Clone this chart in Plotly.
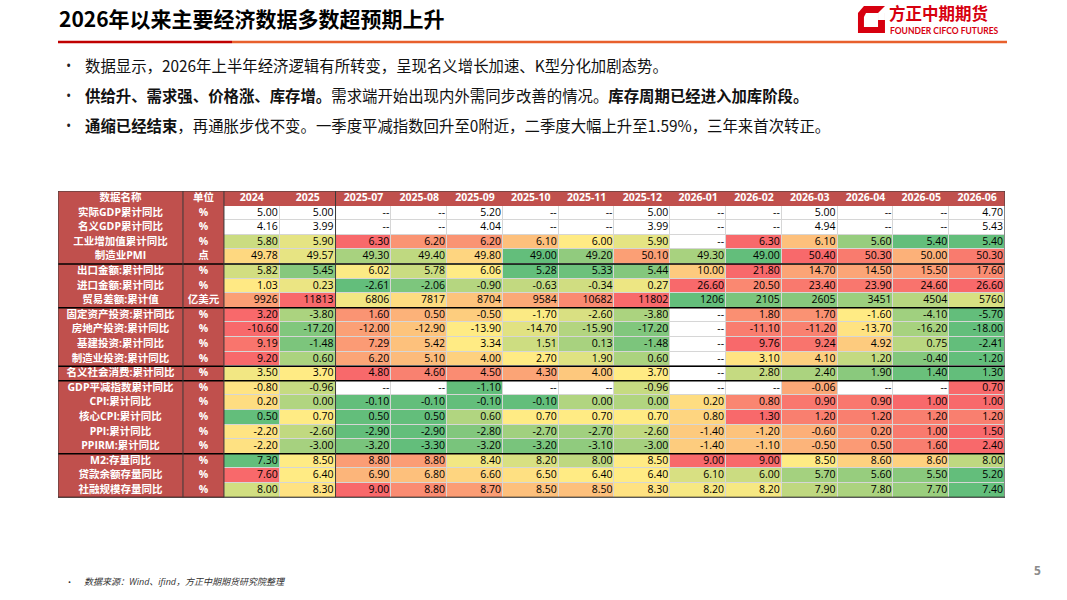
import numpy as np
import plotly.graph_objects as go

# ---------------- data ----------------

periods = ["2024", "2025", "2025-07", "2025-08", "2025-09", "2025-10", "2025-11",
           "2025-12", "2026-01", "2026-02", "2026-03", "2026-04", "2026-05", "2026-06"]

names = ["实际GDP累计同比", "名义GDP累计同比", "工业增加值累计同比", "制造业PMI",
         "出口金额:累计同比", "进口金额:累计同比", "贸易差额:累计值",
         "固定资产投资:累计同比", "房地产投资:累计同比", "基建投资:累计同比", "制造业投资:累计同比",
         "名义社会消费:累计同比",
         "GDP平减指数累计同比", "CPI:累计同比", "核心CPI:累计同比", "PPI:累计同比", "PPIRM:累计同比",
         "M2:存量同比", "贷款余额存量同比", "社融规模存量同比"]

units = ["%", "%", "%", "点", "%", "%", "亿美元", "%", "%", "%", "%", "%",
         "%", "%", "%", "%", "%", "%", "%", "%"]

N = None
real_gdp = [5.00, 5.00, N, N, 5.20, N, N, 5.00, N, N, 5.00, N, N, 4.70]
nominal_gdp = [4.16, 3.99, N, N, 4.04, N, N, 3.99, N, N, 4.94, N, N, 5.43]
ind_va = [5.80, 5.90, 6.30, 6.20, 6.20, 6.10, 6.00, 5.90, N, 6.30, 6.10, 5.60, 5.40, 5.40]
pmi = [49.78, 49.57, 49.30, 49.40, 49.80, 49.00, 49.20, 50.10, 49.30, 49.00, 50.40, 50.30, 50.00, 50.30]
exports = [5.82, 5.45, 6.02, 5.78, 6.06, 5.28, 5.33, 5.44, 10.00, 21.80, 14.70, 14.50, 15.50, 17.60]
imports = [1.03, 0.23, -2.61, -2.06, -0.90, -0.63, -0.34, 0.27, 26.60, 20.50, 23.40, 23.90, 24.60, 26.60]
trade_bal = [9926, 11813, 6806, 7817, 8704, 9584, 10682, 11802, 1206, 2105, 2605, 3451, 4504, 5760]
fai = [3.20, -3.80, 1.60, 0.50, -0.50, -1.70, -2.60, -3.80, N, 1.80, 1.70, -1.60, -4.10, -5.70]
property_inv = [-10.60, -17.20, -12.00, -12.90, -13.90, -14.70, -15.90, -17.20, N, -11.10, -11.20, -13.70, -16.20, -18.00]
infra_inv = [9.19, -1.48, 7.29, 5.42, 3.34, 1.51, 0.13, -1.48, N, 9.76, 9.24, 4.92, 0.75, -2.41]
mfg_inv = [9.20, 0.60, 6.20, 5.10, 4.00, 2.70, 1.90, 0.60, N, 3.10, 4.10, 1.20, -0.40, -1.20]
retail = [3.50, 3.70, 4.80, 4.60, 4.50, 4.30, 4.00, 3.70, N, 2.80, 2.40, 1.90, 1.40, 1.30]
deflator = [-0.80, -0.96, N, N, -1.10, N, N, -0.96, N, N, -0.06, N, N, 0.70]
cpi = [0.20, 0.00, -0.10, -0.10, -0.10, -0.10, 0.00, 0.00, 0.20, 0.80, 0.90, 0.90, 1.00, 1.00]
core_cpi = [0.50, 0.70, 0.50, 0.50, 0.60, 0.70, 0.70, 0.70, 0.80, 1.30, 1.20, 1.20, 1.20, 1.20]
ppi = [-2.20, -2.60, -2.90, -2.90, -2.80, -2.70, -2.70, -2.60, -1.40, -1.20, -0.60, 0.20, 1.00, 1.50]
ppirm = [-2.20, -3.00, -3.20, -3.30, -3.20, -3.20, -3.10, -3.00, -1.40, -1.10, -0.50, 0.50, 1.60, 2.40]
m2 = [7.30, 8.50, 8.80, 8.80, 8.40, 8.20, 8.00, 8.50, 9.00, 9.00, 8.50, 8.60, 8.60, 8.00]
loans = [7.60, 6.40, 6.90, 6.80, 6.60, 6.50, 6.40, 6.40, 6.10, 6.00, 5.70, 5.60, 5.50, 5.20]
tsf = [8.00, 8.30, 9.00, 8.80, 8.70, 8.50, 8.50, 8.30, 8.20, 8.20, 7.90, 7.80, 7.70, 7.40]

rows = [real_gdp, nominal_gdp, ind_va, pmi, exports, imports, trade_bal, fai, property_inv,
        infra_inv, mfg_inv, retail, deflator, cpi, core_cpi, ppi, ppirm, m2, loans, tsf]

plain_rows = [0, 1]          # GDP rows have no colour scale
integer_rows = [6]           # trade balance shown without decimals
group_breaks = [4, 7, 11, 12, 17]   # thick line below these many rows

bullets = [
    "数据显示，2026年上半年经济逻辑有所转变，呈现名义增长加速、K型分化加剧态势。",
    "<b>供给升、需求强、价格涨、库存增。</b>需求端开始出现内外需同步改善的情况。<b>库存周期已经进入加库阶段。</b>",
    "<b>通缩已经结束</b>，再通胀步伐不变。一季度平减指数回升至0附近，二季度大幅上升至1.59%，三年来首次转正。",
]

# ---------------- styling ----------------

W, H = 1067, 600
LABEL_RED = "#C0504D"
FONT = "Open Sans, Noto Sans CJK SC"
CJK = "Noto Sans CJK SC"

tbl_left, tbl_right = 58, 1005
tbl_top = 191
row_h = 14.6
col_w = [125, 41] + [55.8] * len(periods)
edges = np.concatenate([[0], np.cumsum(col_w)])
centers = (edges[:-1] + edges[1:]) / 2
n_rows = len(rows)
n_cols = len(col_w)
tbl_bottom = tbl_top + row_h * (n_rows + 1)


def px_x(x):
    return x / W


def px_y(y):
    return 1 - y / H


def scale_pos(vals):
    # excel style 3-colour scale: min -> -1 (green), 50th pct -> 0 (yellow), max -> 1 (red)
    nums = [v for v in vals if v is not None]
    lo, hi, mid = min(nums), max(nums), float(np.percentile(nums, 50))
    out = []
    for v in vals:
        if v is None:
            out.append(None)
        elif v <= mid:
            out.append(0.0 if mid == lo else -(mid - v) / (mid - lo))
        else:
            out.append(0.0 if hi == mid else (v - mid) / (hi - mid))
    return out


def fmt(v, integer):
    if v is None:
        return "--"
    return "%d" % v if integer else "%.2f" % v


# grids: row 0 is the header, rows 1..n are data; columns 0,1 are name/unit
z_label = np.full((n_rows + 1, n_cols), np.nan)
z_white = np.full((n_rows + 1, n_cols), np.nan)
z_scale = np.full((n_rows + 1, n_cols), np.nan)
z_label[0, :] = 1
z_label[:, 0:2] = 1
for i, r in enumerate(rows):
    pos = [None] * len(r) if i in plain_rows else scale_pos(r)
    for j, p in enumerate(pos):
        if p is None:
            z_white[i + 1, j + 2] = 1
        else:
            z_scale[i + 1, j + 2] = p

y_idx = list(range(n_rows + 1))

fig = go.Figure()
fig.add_trace(go.Heatmap(z=z_label, x=edges, y=y_idx, colorscale=[[0, LABEL_RED], [1, LABEL_RED]],
                         showscale=False, hoverinfo="skip", xgap=0, ygap=0))
fig.add_trace(go.Heatmap(z=z_white, x=edges, y=y_idx, colorscale=[[0, "white"], [1, "white"]],
                         showscale=False, hoverinfo="skip", xgap=1, ygap=1))
fig.add_trace(go.Heatmap(z=z_scale, x=edges, y=y_idx, zmin=-1, zmax=1,
                         colorscale=[[0, "#63BE7B"], [0.5, "#FFEB84"], [1, "#F8696B"]],
                         showscale=False, hoverinfo="skip", xgap=1, ygap=1))

# header text
fig.add_trace(go.Scatter(x=centers, y=[0] * n_cols, mode="text",
                         text=["<b>%s</b>" % h for h in ["数据名称", "单位"] + periods],
                         textfont=dict(family=FONT, size=10.5, color="white"), hoverinfo="skip"))
# name and unit text
fig.add_trace(go.Scatter(x=[centers[0]] * n_rows + [centers[1]] * n_rows,
                         y=list(range(1, n_rows + 1)) * 2, mode="text",
                         text=["<b>%s</b>" % s for s in names + units],
                         textfont=dict(family=FONT, size=10.5, color="white"), hoverinfo="skip"))
# values
vx, vy, vt = [], [], []
for i, r in enumerate(rows):
    for j, v in enumerate(r):
        vx.append(edges[j + 3] - 2)
        vy.append(i + 1)
        vt.append(fmt(v, i in integer_rows))
fig.add_trace(go.Scatter(x=vx, y=vy, mode="text", text=vt, textposition="middle left",
                         textfont=dict(family=FONT, size=10.5, color="black"), hoverinfo="skip"))

shapes = []
for k in group_breaks + [n_rows]:
    shapes.append(dict(type="line", xref="x", yref="y", x0=edges[0], x1=edges[-1],
                       y0=k + 0.5, y1=k + 0.5, line=dict(color="black", width=1.5)))
for e in [edges[1], edges[2], edges[4]]:
    shapes.append(dict(type="line", xref="x", yref="y", x0=e, x1=e, y0=-0.5, y1=n_rows + 0.5,
                       line=dict(color="#3a3a3a", width=1)))
shapes.append(dict(type="rect", xref="x", yref="y", x0=edges[0], x1=edges[-1], y0=-0.5,
                   y1=n_rows + 0.5, line=dict(color="#3a3a3a", width=1)))

# title underline
shapes.append(dict(type="line", xref="paper", yref="paper", x0=px_x(58), x1=px_x(232),
                   y0=px_y(42), y1=px_y(42), line=dict(color="#C00000", width=2.5)))
shapes.append(dict(type="line", xref="paper", yref="paper", x0=px_x(232), x1=px_x(1007),
                   y0=px_y(42), y1=px_y(42), line=dict(color="#E8602C", width=2.5)))


# logo mark
def path(points):
    return "M " + " L ".join("%.4f,%.4f" % (px_x(a), px_y(b)) for a, b in points) + " Z"


shapes.append(dict(type="path", xref="paper", yref="paper",
                   path=path([(864, 6), (885, 6), (885, 33), (858, 33), (858, 13)]),
                   fillcolor="#D7000F", line=dict(width=0)))
shapes.append(dict(type="path", xref="paper", yref="paper",
                   path=path([(866, 13), (878, 13), (878, 27), (864, 27), (864, 17)]),
                   fillcolor="white", line=dict(width=0)))
shapes.append(dict(type="path", xref="paper", yref="paper",
                   path=path([(878, 13), (885, 6), (885, 20), (878, 20)]),
                   fillcolor="white", line=dict(width=0)))

annotations = [
    dict(text="<b>2026年以来主要经济数据多数超预期上升</b>", x=px_x(57), y=px_y(18),
         xanchor="left", yanchor="middle", font=dict(family=CJK, size=21, color="black")),
    dict(text="<b>方正中期期货</b>", x=px_x(887), y=px_y(13), xanchor="left", yanchor="middle",
         font=dict(family=CJK, size=16.5, color="#D7000F")),
    dict(text="<b>FOUNDER CIFCO FUTURES</b>", x=px_x(888), y=px_y(31), xanchor="left", yanchor="middle",
         font=dict(family="Lato", size=8.5, color="#D7000F")),
    dict(text="•", x=px_x(66), y=px_y(581), xanchor="left", yanchor="middle",
         font=dict(family=FONT, size=8, color="#333333")),
    dict(text="<i>数据来源：Wind、ifind，方正中期期货研究院整理</i>", x=px_x(82), y=px_y(581),
         xanchor="left", yanchor="middle", font=dict(family=FONT, size=9, color="#333333")),
    dict(text="<b>5</b>", x=px_x(1037), y=px_y(570), xanchor="center", yanchor="middle",
         font=dict(family=FONT, size=12, color="#8C8C8C")),
]
for i, b in enumerate(bullets):
    y = 65 + 30 * i
    annotations.append(dict(text="•", x=px_x(64), y=px_y(y), xanchor="left", yanchor="middle",
                            font=dict(family=FONT, size=14, color="#222222")))
    annotations.append(dict(text=b, x=px_x(83), y=px_y(y), xanchor="left", yanchor="middle",
                            font=dict(family=CJK, size=15.4, color="#111111")))
for a in annotations:
    a.update(xref="paper", yref="paper", showarrow=False)

fig.update_layout(
    width=W, height=H,
    margin=dict(l=0, r=0, t=0, b=0),
    paper_bgcolor="white",
    plot_bgcolor="#D6D6D6",
    showlegend=False,
    xaxis=dict(domain=[px_x(tbl_left), px_x(tbl_right)], range=[edges[0], edges[-1]],
               visible=False, fixedrange=True),
    yaxis=dict(domain=[px_y(tbl_bottom), px_y(tbl_top)], range=[n_rows + 0.5, -0.5],
               visible=False, fixedrange=True),
    shapes=shapes,
    annotations=annotations,
)

fig.write_html("out.html", config={"displayModeBar": False},
               post_script="document.body.style.margin='0px';")
